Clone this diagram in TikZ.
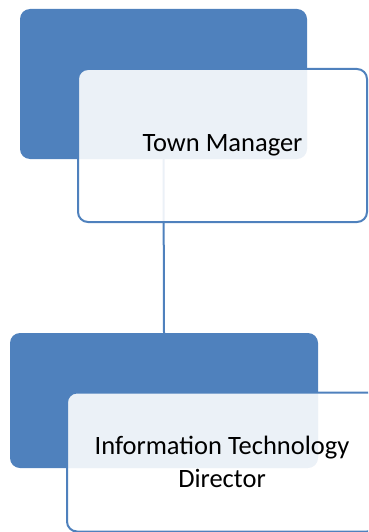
\documentclass[tikz,border=0pt]{standalone}
\usepackage{fontspec}
\setmainfont{Carlito}
\definecolor{orgblue}{RGB}{79,129,189}
\tikzset{
  backbox/.style={fill=orgblue, draw=none, rounded corners=10pt, inner sep=0pt},
  namebox/.style={fill=white, fill opacity=0.89, text opacity=1, draw=orgblue, line width=2pt,
    rounded corners=10pt, inner sep=0pt, align=center, font=\fontsize{26.5}{33}\selectfont},
}
\begin{document}
\begin{tikzpicture}[x=1pt, y=-1pt, line join=round, line cap=round]
		\useasboundingbox (0,0) rectangle (368,532);
		\clip (0,0) rectangle (368,532);
		\node[backbox, minimum width=287pt, minimum height=150pt] (mgrback) at (163.5,84) {};
		\node[backbox, minimum width=308pt, minimum height=135pt] (itback) at (164,400.5) {};
		\draw[orgblue, line width=2pt] (mgrback.south)--(itback.north);
		\node[namebox, minimum width=289pt, minimum height=153pt] (mgr) at (222.5,145.5) {Town Manager};
		\node[namebox, minimum width=310pt, minimum height=139pt] (it) at (222,462) {Information Technology\\Director};
\end{tikzpicture}
\end{document}
